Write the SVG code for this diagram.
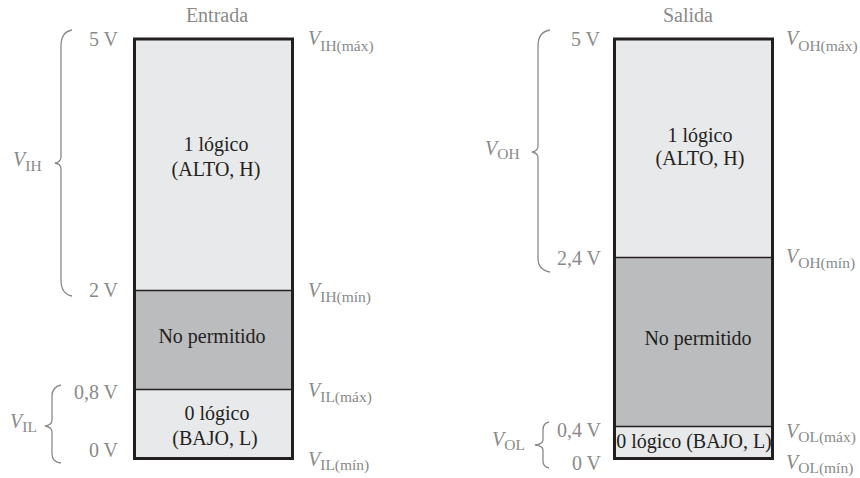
<svg xmlns="http://www.w3.org/2000/svg" width="860" height="478" viewBox="0 0 860 478" font-family="'Liberation Serif', 'DejaVu Serif', serif">
<style>
  text { font-family: 'Liberation Serif', 'DejaVu Serif', serif; }
  .g { fill: #8a8a8a; font-size: 20px; }
  .t { fill: #231f20; font-size: 20px; text-anchor: middle; }
  .ttl { fill: #8a8a8a; font-size: 20px; text-anchor: middle; }
  .r { text-anchor: end; }
  .v { font-style: italic; }
  .s { font-size: 15.5px; }
  .light { fill: #e8e9eb; }
  .dark { fill: #bbbcbe; }
  .div { stroke: #231f20; stroke-width: 1.5; fill: none; }
  .frame { fill: none; stroke: #231f20; stroke-width: 3; }
  .brace { fill: none; stroke: #8a8a8a; stroke-width: 1.3; }
</style>
<rect width="860" height="478" fill="#ffffff"/>

<!-- Entrada -->
<g id="entrada">
  <text class="ttl" x="217" y="22">Entrada</text>
  <g id="in-high">
    <rect class="light" x="134.5" y="39" width="158" height="251.5"/>
    <text class="t" x="216" y="151">1 lógico</text>
    <text class="t" x="216" y="176">(ALTO, H)</text>
  </g>
  <g id="in-forbidden">
    <rect class="dark" x="134.5" y="290.5" width="158" height="99"/>
    <text class="t" x="212" y="343">No permitido</text>
  </g>
  <g id="in-low">
    <rect class="light" x="134.5" y="389.5" width="158" height="69"/>
    <text class="t" x="217" y="420">0 lógico</text>
    <text class="t" x="215" y="445">(BAJO, L)</text>
  </g>
  <line class="div" x1="134.5" y1="290.5" x2="292.5" y2="290.5"/>
  <line class="div" x1="134.5" y1="389.5" x2="292.5" y2="389.5"/>
  <rect class="frame" x="134.5" y="39" width="158" height="419.5"/>
  <g id="in-labels">
    <text class="g r" x="118" y="46">5 V</text>
    <text class="g r" x="118" y="297">2 V</text>
    <text class="g r" x="118" y="399">0,8 V</text>
    <text class="g r" x="118" y="457">0 V</text>
    <text class="g" x="308" y="45"><tspan class="v">V</tspan><tspan class="s" dy="6">IH(máx)</tspan></text>
    <text class="g" x="308" y="297"><tspan class="v">V</tspan><tspan class="s" dy="5">IH(mín)</tspan></text>
    <text class="g" x="308" y="397"><tspan class="v">V</tspan><tspan class="s" dy="5">IL(máx)</tspan></text>
    <text class="g" x="308" y="466"><tspan class="v">V</tspan><tspan class="s" dy="4">IL(mín)</tspan></text>
    <text class="g" x="13" y="166"><tspan class="v">V</tspan><tspan class="s" dy="5">IH</tspan></text>
    <text class="g" x="10" y="428"><tspan class="v">V</tspan><tspan class="s" dy="4">IL</tspan></text>
  </g>
</g>

<!-- Salida -->
<g id="salida">
  <text class="ttl" x="688" y="22">Salida</text>
  <g id="out-high">
    <rect class="light" x="614.5" y="39" width="158" height="218.5"/>
    <text class="t" x="700" y="142">1 lógico</text>
    <text class="t" x="700" y="165">(ALTO, H)</text>
  </g>
  <g id="out-forbidden">
    <rect class="dark" x="614.5" y="257.5" width="158" height="169"/>
    <text class="t" x="698" y="345">No permitido</text>
  </g>
  <g id="out-low">
    <rect class="light" x="614.5" y="426.5" width="158" height="32"/>
    <text class="t" x="694" y="448">0 lógico (BAJO, L)</text>
  </g>
  <line class="div" x1="614.5" y1="257.5" x2="772.5" y2="257.5"/>
  <line class="div" x1="614.5" y1="426.5" x2="772.5" y2="426.5"/>
  <rect class="frame" x="614.5" y="39" width="158" height="419.5"/>
  <g id="out-labels">
    <text class="g r" x="600" y="46">5 V</text>
    <text class="g r" x="601" y="265">2,4 V</text>
    <text class="g r" x="601" y="437">0,4 V</text>
    <text class="g r" x="601" y="470">0 V</text>
    <text class="g" x="786" y="45"><tspan class="v">V</tspan><tspan class="s" dy="6">OH(máx)</tspan></text>
    <text class="g" x="786" y="263"><tspan class="v">V</tspan><tspan class="s" dy="5">OH(mín)</tspan></text>
    <text class="g" x="786" y="438"><tspan class="v">V</tspan><tspan class="s" dy="4">OL(máx)</tspan></text>
    <text class="g" x="786" y="469"><tspan class="v">V</tspan><tspan class="s" dy="4">OL(mín)</tspan></text>
    <text class="g" x="485" y="155"><tspan class="v">V</tspan><tspan class="s" dy="4">OH</tspan></text>
    <text class="g" x="492" y="446"><tspan class="v">V</tspan><tspan class="s" dy="4">OL</tspan></text>
  </g>
</g>

<!-- braces -->
<g id="braces">
  <path class="brace" d="M72,30 Q61,32 61,46 L61,157 Q61,162 55,163 Q61,164 61,169 L61,280 Q61,294 72,296"/>
  <path class="brace" d="M61,385 Q52,387 52,396 L52,420 Q52,425 45,426 Q52,427 52,432 L52,454 Q52,462 61,463"/>
  <path class="brace" d="M550,30 Q538,32 538,46 L538,146 Q538,151 532,152 Q538,153 538,158 L538,258 Q538,270 550,272"/>
  <path class="brace" d="M549,422 Q543,423 543,430 L543,440 Q543,444 535,445 Q543,446 543,450 L543,461 Q543,467 549,468"/>
</g>
</svg>
